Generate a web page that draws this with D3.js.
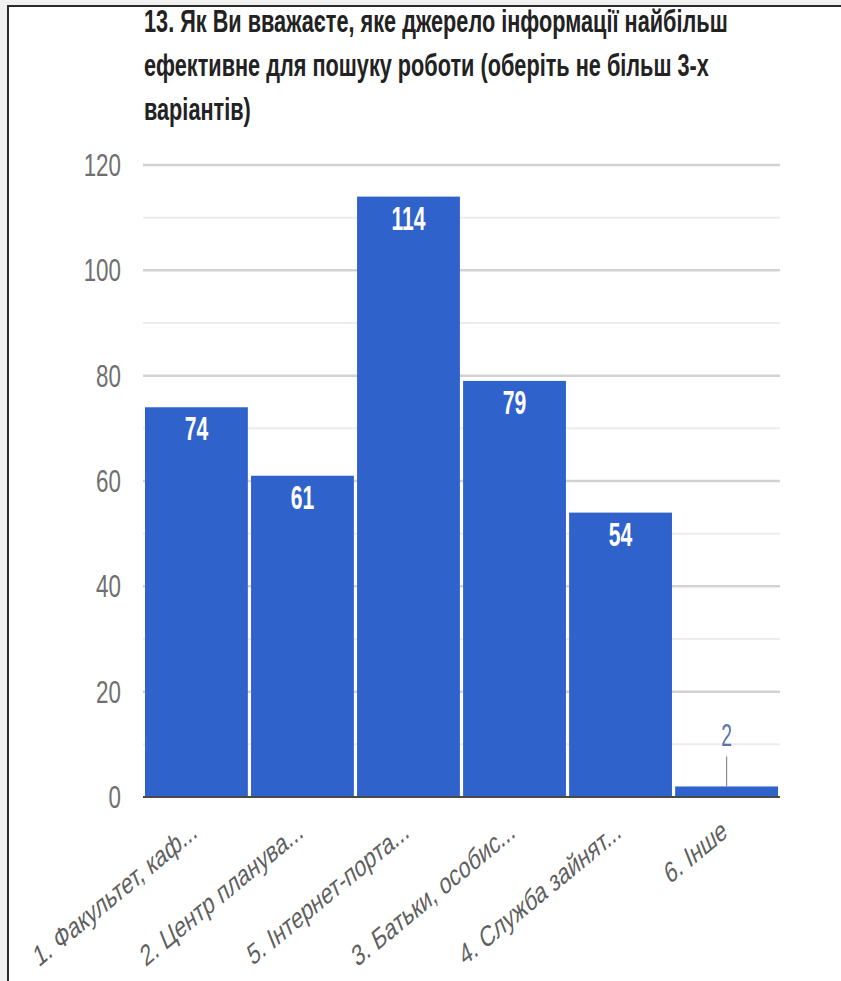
<!DOCTYPE html>
<html><head><meta charset="utf-8">
<script src="https://cdn.jsdelivr.net/npm/d3@7"></script>
<style>html,body{margin:0;padding:0;background:#f1f1f1;}svg{display:block;}</style>
</head><body>
<svg id="c" width="841" height="981"></svg>
<script>
const titleLines = ["13. Як Ви вважаєте, яке джерело інформації найбільш",
                    "ефективне для пошуку роботи (оберіть не більш 3-х",
                    "варіантів)"];
const categories = ["1. Факультет, каф...", "2. Центр планува...", "5. Інтернет-порта...",
                    "3. Батьки, особис...", "4. Служба зайнят...", "6. Інше"];
const values = [74, 61, 114, 79, 54, 2];
const yTicks = [0, 20, 40, 60, 80, 100, 120];
const yMinor = [10, 30, 50, 70, 90, 110];

const SX = 0.7; // horizontal squeeze of the picture
const svg = d3.select("#c");
const font = "'Liberation Sans', Arial, sans-serif";

svg.append("rect").attr("x", 0).attr("y", 0).attr("width", 841).attr("height", 981).attr("fill", "#f1f1f1");
svg.append("rect").attr("x", 8).attr("y", 6).attr("width", 860).attr("height", 1000)
  .attr("fill", "#fff").attr("stroke", "#2b2b2b").attr("stroke-width", 2);

const x = d3.scaleBand().domain(categories).range([145, 778]).paddingInner(0.03).paddingOuter(0);
const y = d3.scaleLinear().domain([0, 120]).range([797, 165]);

// title
svg.append("g").selectAll("text").data(titleLines).join("text")
  .attr("transform", (d, i) => `translate(144,${32 + i * 44}) scale(${SX},1)`)
  .attr("font-family", font).attr("font-weight", "bold").attr("font-size", 31)
  .attr("fill", "#222").text(d => d);

// grid
const grid = svg.append("g");
grid.selectAll("line.minor").data(yMinor).join("line").attr("class", "minor")
  .attr("x1", 143).attr("x2", 780).attr("y1", d => y(d)).attr("y2", d => y(d))
  .attr("stroke", "#ececec").attr("stroke-width", 2);
grid.selectAll("line.major").data(yTicks.filter(d => d > 0)).join("line").attr("class", "major")
  .attr("x1", 143).attr("x2", 780).attr("y1", d => y(d)).attr("y2", d => y(d))
  .attr("stroke", "#d2d2d2").attr("stroke-width", 2.5);

// y tick labels
svg.append("g").selectAll("text").data(yTicks).join("text")
  .attr("transform", d => `translate(121,${y(d) + 11}) scale(${SX},1)`)
  .attr("text-anchor", "end").attr("font-family", font).attr("font-size", 32)
  .attr("fill", "#6f6f6f").text(d => d);

// bars
svg.append("g").selectAll("rect").data(values).join("rect")
  .attr("x", (d, i) => x(categories[i])).attr("width", x.bandwidth())
  .attr("y", d => y(d)).attr("height", d => y(0) - y(d))
  .attr("fill", "#3062cc");

// baseline
svg.append("line").attr("x1", 143).attr("x2", 780).attr("y1", y(0)).attr("y2", y(0))
  .attr("stroke", "#4a4a4a").attr("stroke-width", 2);

// value labels
const lab = svg.append("g");
values.forEach((v, i) => {
  const cx = x(categories[i]) + x.bandwidth() / 2;
  if (y(0) - y(v) > 45) {
    lab.append("text").attr("transform", `translate(${cx},${y(v) + 33}) scale(0.62,1)`)
      .attr("text-anchor", "middle").attr("font-family", font).attr("font-size", 34)
      .attr("font-weight", "bold").attr("fill", "#fff").text(v);
  } else {
    lab.append("line").attr("x1", cx).attr("x2", cx).attr("y1", y(v) - 30).attr("y2", y(v))
      .attr("stroke", "#8a8a8a").attr("stroke-width", 1.2);
    lab.append("text").attr("transform", `translate(${cx},${y(v) - 40}) scale(0.62,1)`)
      .attr("text-anchor", "middle").attr("font-family", font).attr("font-size", 31)
      .attr("fill", "#5a72ad").text(v);
  }
});

// x labels
svg.append("g").selectAll("text").data(categories).join("text")
  .attr("transform", d => `translate(${x(d) + x.bandwidth() / 2 + 2},836) scale(${SX},1) rotate(-30)`)
  .attr("text-anchor", "end").attr("font-family", font).attr("font-size", 29.5)
  .attr("fill", "#5f5f5f").text(d => d);
</script>
</body></html>
